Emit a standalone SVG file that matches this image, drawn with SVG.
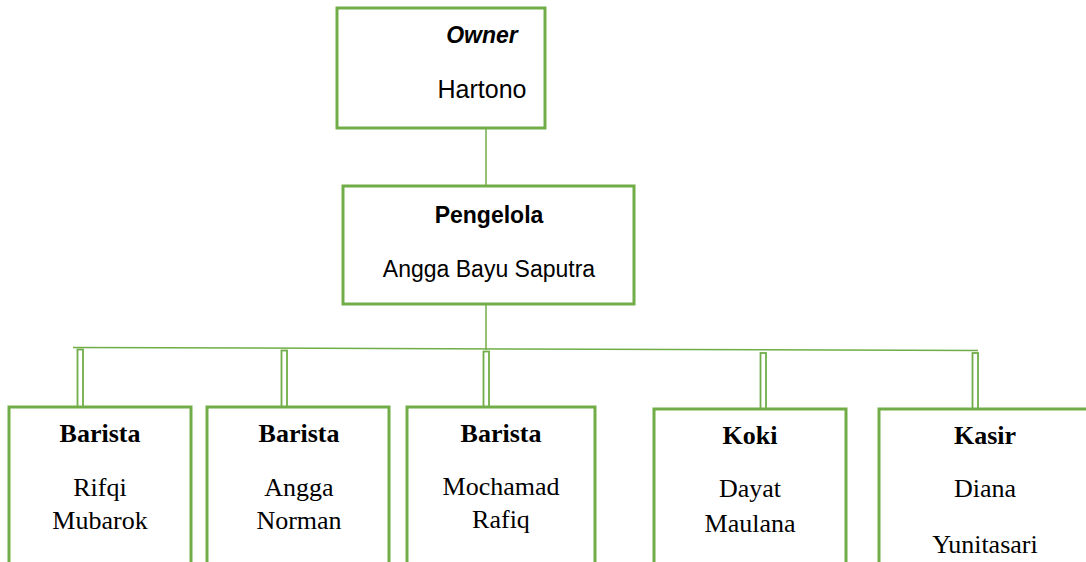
<svg xmlns="http://www.w3.org/2000/svg" width="1086" height="562" viewBox="0 0 1086 562">
<style>
.box{fill:#fff;stroke:#70AD47;stroke-width:3}
.ln{stroke:#70AD47;stroke-width:1.5;fill:none}
.dbl{fill:#fff;stroke:#70AD47;stroke-width:1.8}
.sans{font-family:"Liberation Sans",Arial,sans-serif;font-size:23px;fill:#000;text-anchor:middle}
.serif{font-family:"Liberation Serif","Times New Roman",serif;font-size:26px;fill:#000;text-anchor:middle}
.b{font-weight:bold}
</style>
<rect width="1086" height="562" fill="#fff"/>
<g id="connectors">
<line class="ln" x1="486" y1="128" x2="486" y2="186"/>
<line class="ln" x1="486" y1="304" x2="486" y2="350"/>
<line class="ln" x1="73" y1="347.5" x2="978" y2="350.5"/>
<rect class="dbl" x="77.5" y="349.5" width="5.5" height="57.5"/>
<rect class="dbl" x="281.5" y="350.5" width="5.5" height="56.5"/>
<rect class="dbl" x="483.5" y="351.5" width="5.5" height="55.5"/>
<rect class="dbl" x="760.5" y="353" width="5.5" height="56"/>
<rect class="dbl" x="972.5" y="353" width="5.5" height="56"/>
</g>
<g id="owner">
<rect class="box" x="337" y="8" width="208" height="120"/>
<text class="sans b" x="482" y="43" style="font-style:italic">Owner</text>
<text class="sans" x="482" y="98" style="font-size:25px">Hartono</text>
</g>
<g id="pengelola">
<rect class="box" x="343" y="186" width="291" height="118"/>
<text class="sans b" x="489" y="223">Pengelola</text>
<text class="sans" x="489" y="277">Angga Bayu Saputra</text>
</g>
<g id="barista1">
<rect class="box" x="9" y="407" width="182" height="170"/>
<text class="serif b" x="100" y="442">Barista</text>
<text class="serif" x="100" y="496">Rifqi</text>
<text class="serif" x="100" y="529">Mubarok</text>
</g>
<g id="barista2">
<rect class="box" x="207" y="407" width="182" height="170"/>
<text class="serif b" x="299" y="442">Barista</text>
<text class="serif" x="299" y="496">Angga</text>
<text class="serif" x="299" y="529">Norman</text>
</g>
<g id="barista3">
<rect class="box" x="407" y="407" width="188" height="170"/>
<text class="serif b" x="501" y="442">Barista</text>
<text class="serif" x="501" y="495">Mochamad</text>
<text class="serif" x="501" y="528">Rafiq</text>
</g>
<g id="koki">
<rect class="box" x="654" y="409" width="192" height="170"/>
<text class="serif b" x="750" y="444">Koki</text>
<text class="serif" x="750" y="497">Dayat</text>
<text class="serif" x="750" y="532">Maulana</text>
</g>
<g id="kasir">
<rect class="box" x="879" y="409" width="230" height="170"/>
<text class="serif b" x="985" y="444">Kasir</text>
<text class="serif" x="985" y="497">Diana</text>
<text class="serif" x="985" y="553">Yunitasari</text>
</g>
</svg>
